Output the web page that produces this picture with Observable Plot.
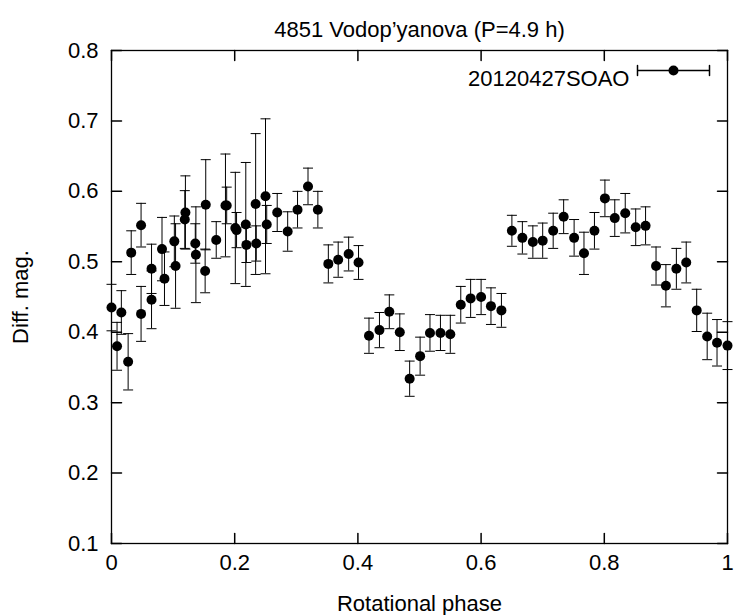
<!DOCTYPE html>
<html>
<head>
<meta charset="utf-8">
<script src="https://cdn.jsdelivr.net/npm/d3@7"></script>
<script src="https://cdn.jsdelivr.net/npm/@observablehq/plot@0.6"></script>
<style>
  html, body { margin: 0; padding: 0; background: white; }
</style>
</head>
<body>
<div id="chart"></div>
<script>
const titleText = "4851 Vodop\u2019yanova (P=4.9 h)";
const seriesName = "20120427SOAO";
const xLabel = "Rotational phase";
const yLabel = "Diff. mag.";
const xTicks = [0, 0.2, 0.4, 0.6, 0.8, 1];
const yTicks = [0.1, 0.2, 0.3, 0.4, 0.5, 0.6, 0.7, 0.8];

const phase = [0.000, 0.009, 0.016, 0.027, 0.032, 0.048, 0.048, 0.065, 0.065, 0.082,
  0.086, 0.102, 0.104, 0.120, 0.119, 0.136, 0.137, 0.153, 0.152, 0.170,
  0.185, 0.187, 0.201, 0.203, 0.218, 0.219, 0.234, 0.235, 0.250, 0.252,
  0.269, 0.286, 0.302, 0.319, 0.335, 0.352, 0.368, 0.385, 0.401, 0.418,
  0.435, 0.451, 0.468, 0.484, 0.501, 0.517, 0.534, 0.550, 0.567, 0.583,
  0.600, 0.616, 0.633, 0.650, 0.667, 0.684, 0.700, 0.717, 0.734, 0.751,
  0.767, 0.784, 0.801, 0.817, 0.834, 0.851, 0.867, 0.884, 0.900, 0.917,
  0.933, 0.950, 0.967, 0.983, 1.000];
const mag = [0.435, 0.380, 0.428, 0.358, 0.513, 0.552, 0.426, 0.490, 0.446, 0.518,
  0.476, 0.529, 0.494, 0.570, 0.560, 0.526, 0.510, 0.581, 0.487, 0.531,
  0.580, 0.580, 0.548, 0.545, 0.553, 0.524, 0.582, 0.526, 0.593, 0.553,
  0.570, 0.543, 0.574, 0.607, 0.574, 0.497, 0.503, 0.511, 0.499, 0.395,
  0.403, 0.429, 0.400, 0.334, 0.366, 0.399, 0.399, 0.397, 0.439, 0.448,
  0.450, 0.437, 0.431, 0.544, 0.534, 0.528, 0.530, 0.544, 0.564, 0.534,
  0.512, 0.544, 0.590, 0.562, 0.569, 0.549, 0.551, 0.494, 0.466, 0.490,
  0.499, 0.431, 0.394, 0.385, 0.381];
const err = [0.033, 0.034, 0.031, 0.040, 0.031, 0.031, 0.039, 0.035, 0.041, 0.045,
  0.038, 0.036, 0.060, 0.052, 0.041, 0.028, 0.068, 0.064, 0.031, 0.026,
  0.073, 0.026, 0.079, 0.025, 0.088, 0.025, 0.100, 0.025, 0.110, 0.027,
  0.027, 0.028, 0.026, 0.026, 0.026, 0.027, 0.025, 0.024, 0.024, 0.025,
  0.025, 0.024, 0.026, 0.025, 0.027, 0.026, 0.025, 0.027, 0.026, 0.027,
  0.025, 0.026, 0.024, 0.022, 0.023, 0.023, 0.025, 0.025, 0.024, 0.026,
  0.030, 0.026, 0.026, 0.026, 0.028, 0.026, 0.027, 0.027, 0.030, 0.029,
  0.029, 0.030, 0.033, 0.033, 0.034];

const data = phase.map((p, i) => ({phase: p, mag: mag[i], lo: mag[i] - err[i], hi: mag[i] + err[i]}));

const capHalf = 5;
const capSymbol = {draw(c) { c.moveTo(-capHalf, 0); c.lineTo(capHalf, 0); }};
const tickShape = {draw(c, l) { c.moveTo(0, 0); c.lineTo(0, -l); }};
const legendShape = {draw(c, l) {
  c.moveTo(0, 0); c.lineTo(0, -l);
  c.moveTo(-capHalf, 0); c.lineTo(capHalf, 0);
  c.moveTo(-capHalf, -l); c.lineTo(capHalf, -l);
}};
const tickLen = 10;

const chart = Plot.plot({
  width: 735,
  height: 615,
  marginLeft: 111,
  marginRight: 8,
  marginTop: 50,
  marginBottom: 72,
  style: {fontFamily: "'Liberation Sans', Arial, Helvetica, sans-serif", fontSize: "22px", background: "white", color: "black"},
  x: {domain: [0, 1]},
  y: {domain: [0.1, 0.8]},
  marks: [
    Plot.axisX(xTicks, {tickSize: 0, tickPadding: 11, tickFormat: d => String(d), label: xLabel, labelAnchor: "center", labelArrow: "none", labelOffset: 67}),
    Plot.axisY(yTicks, {tickSize: 0, tickPadding: 13, tickFormat: d => String(d), label: yLabel, labelAnchor: "center", labelArrow: "none", labelOffset: 99}),
    Plot.vector(xTicks, {x: d => d, frameAnchor: "bottom", rotate: 0, length: tickLen, anchor: "start", shape: tickShape, stroke: "black"}),
    Plot.vector(xTicks, {x: d => d, frameAnchor: "top", rotate: 180, length: tickLen, anchor: "start", shape: tickShape, stroke: "black"}),
    Plot.vector(yTicks, {y: d => d, frameAnchor: "left", rotate: 90, length: tickLen, anchor: "start", shape: tickShape, stroke: "black"}),
    Plot.vector(yTicks, {y: d => d, frameAnchor: "right", rotate: 270, length: tickLen, anchor: "start", shape: tickShape, stroke: "black"}),
    Plot.ruleX(data, {x: "phase", y1: "lo", y2: "hi", stroke: "black", strokeWidth: 1}),
    Plot.dot(data, {x: "phase", y: "lo", symbol: capSymbol, stroke: "black", fill: "none", strokeWidth: 1}),
    Plot.dot(data, {x: "phase", y: "hi", symbol: capSymbol, stroke: "black", fill: "none", strokeWidth: 1}),
    Plot.dot(data, {x: "phase", y: "mag", r: 5, fill: "black", stroke: "none"}),
    Plot.frame({stroke: "black", strokeWidth: 1.3}),
    Plot.text([titleText], {frameAnchor: "top", dy: -29, fill: "black"}),
    Plot.text([seriesName], {frameAnchor: "top-right", dx: -98, dy: 20, textAnchor: "end", fill: "black"}),
    Plot.vector([seriesName], {frameAnchor: "top-right", dx: -90, dy: 20, rotate: 90, length: 72, anchor: "start", shape: legendShape, stroke: "black"}),
    Plot.dot([seriesName], {frameAnchor: "top-right", dx: -54, dy: 20, r: 5, fill: "black"})
  ]
});
document.getElementById("chart").appendChild(chart);
</script>
</body>
</html>
